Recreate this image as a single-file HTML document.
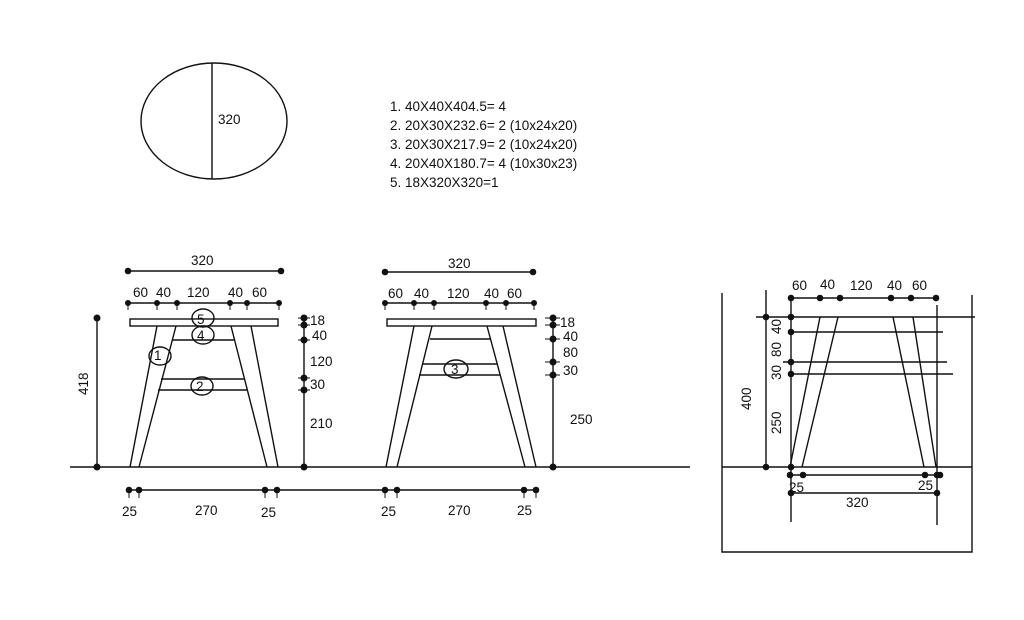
<!DOCTYPE html>
<html><head><meta charset="utf-8"><style>
html,body{margin:0;padding:0;background:#fff;width:1024px;height:620px;overflow:hidden}
text{font-family:"Liberation Sans",sans-serif;font-size:13.5px;fill:#111}
</style></head><body>
<svg width="1024" height="620" viewBox="0 0 1024 620" xmlns="http://www.w3.org/2000/svg">
<g stroke="#111" stroke-width="1.4" fill="none">
<ellipse cx="214" cy="121" rx="73" ry="58"/>
<line x1="212" y1="63" x2="212" y2="179"/>
<line x1="70" y1="467" x2="690" y2="467"/>
<line x1="128" y1="271" x2="281" y2="271"/>
<line x1="128" y1="303" x2="279" y2="303"/>
<rect x="130" y="319" width="148" height="7"/>
<line x1="157" y1="326" x2="130" y2="467"/><line x1="176" y1="326" x2="139" y2="467"/>
<line x1="231" y1="326" x2="267" y2="467"/><line x1="251" y1="326" x2="278" y2="467"/>
<line x1="172" y1="340" x2="234" y2="340"/>
<line x1="161" y1="379" x2="244" y2="379"/><line x1="158" y1="390" x2="247" y2="390"/>
<ellipse cx="203" cy="318" rx="11" ry="9"/>
<ellipse cx="203" cy="335" rx="11" ry="9"/>
<ellipse cx="160" cy="356" rx="11" ry="9"/>
<ellipse cx="202" cy="386" rx="11" ry="9"/>
<line x1="97" y1="318" x2="97" y2="467"/>
<line x1="304" y1="318" x2="304" y2="467"/>
<line x1="129" y1="490" x2="536" y2="490"/>
<line x1="385" y1="272" x2="533" y2="272"/>
<line x1="385" y1="303" x2="534" y2="303"/>
<rect x="387" y="319" width="149" height="7"/>
<line x1="414" y1="326" x2="386" y2="467"/><line x1="432" y1="326" x2="397" y2="467"/>
<line x1="487" y1="326" x2="525" y2="467"/><line x1="503" y1="326" x2="536" y2="467"/>
<line x1="430" y1="339" x2="490" y2="339"/>
<line x1="422" y1="364" x2="497" y2="364"/><line x1="419" y1="375" x2="500" y2="375"/>
<ellipse cx="456" cy="369" rx="12" ry="9"/>
<line x1="553" y1="318" x2="553" y2="467"/>
<polyline points="722,293 722,552 972,552 972,295"/>
<line x1="790" y1="298" x2="936" y2="298"/>
<line x1="756" y1="317" x2="975" y2="317"/>
<line x1="766" y1="290" x2="766" y2="467"/>
<line x1="791" y1="298" x2="791" y2="522"/>
<line x1="937" y1="305" x2="937" y2="525"/>
<line x1="790" y1="332" x2="943" y2="332"/>
<line x1="783" y1="362" x2="947" y2="362"/>
<line x1="790" y1="374" x2="953" y2="374"/>
<line x1="722" y1="467" x2="972" y2="467"/>
<line x1="820" y1="317" x2="790" y2="467"/><line x1="838" y1="317" x2="802" y2="467"/>
<line x1="893" y1="317" x2="924" y2="467"/><line x1="913" y1="317" x2="936" y2="467"/>
<line x1="790" y1="475" x2="940" y2="475"/>
<line x1="790" y1="493" x2="937" y2="493"/>
<g stroke-width="1">
<line x1="128" y1="303" x2="128" y2="310"/><line x1="157" y1="303" x2="157" y2="310"/><line x1="177" y1="303" x2="177" y2="310"/><line x1="230" y1="303" x2="230" y2="310"/><line x1="247" y1="303" x2="247" y2="310"/><line x1="279" y1="303" x2="279" y2="310"/>
<line x1="385" y1="303" x2="385" y2="310"/><line x1="414" y1="303" x2="414" y2="310"/><line x1="434" y1="303" x2="434" y2="310"/><line x1="486" y1="303" x2="486" y2="310"/><line x1="506" y1="303" x2="506" y2="310"/><line x1="534" y1="303" x2="534" y2="310"/>
<line x1="129" y1="490" x2="129" y2="498"/><line x1="139" y1="490" x2="139" y2="498"/><line x1="265" y1="490" x2="265" y2="498"/><line x1="277" y1="490" x2="277" y2="498"/>
<line x1="385" y1="490" x2="385" y2="498"/><line x1="397" y1="490" x2="397" y2="498"/><line x1="524" y1="490" x2="524" y2="498"/><line x1="536" y1="490" x2="536" y2="498"/>
<line x1="298" y1="318" x2="310" y2="318"/><line x1="298" y1="325" x2="310" y2="325"/><line x1="298" y1="340" x2="310" y2="340"/><line x1="298" y1="378" x2="310" y2="378"/><line x1="298" y1="390" x2="310" y2="390"/>
<line x1="545" y1="318" x2="560" y2="318"/><line x1="545" y1="325" x2="560" y2="325"/><line x1="545" y1="339" x2="560" y2="339"/><line x1="545" y1="362" x2="560" y2="362"/><line x1="545" y1="375" x2="560" y2="375"/>
</g>
</g>
<g fill="#111">
<circle cx="128" cy="271" r="3.3"/><circle cx="281" cy="271" r="3.3"/>
<circle cx="128" cy="303" r="3"/><circle cx="157" cy="303" r="3"/><circle cx="177" cy="303" r="3"/><circle cx="230" cy="303" r="3"/><circle cx="247" cy="303" r="3"/><circle cx="279" cy="303" r="3"/>
<circle cx="97" cy="318" r="3.5"/><circle cx="97" cy="467" r="3.5"/>
<circle cx="304" cy="318" r="3.5"/><circle cx="304" cy="325" r="3.5"/><circle cx="304" cy="340" r="3.5"/><circle cx="304" cy="378" r="3.5"/><circle cx="304" cy="390" r="3.5"/><circle cx="304" cy="467" r="3.5"/>
<circle cx="129" cy="490" r="3.3"/><circle cx="139" cy="490" r="3.3"/><circle cx="265" cy="490" r="3.3"/><circle cx="277" cy="490" r="3.3"/>
<circle cx="385" cy="490" r="3.3"/><circle cx="397" cy="490" r="3.3"/><circle cx="524" cy="490" r="3.3"/><circle cx="536" cy="490" r="3.3"/>
<circle cx="385" cy="272" r="3.3"/><circle cx="533" cy="272" r="3.3"/>
<circle cx="385" cy="303" r="3"/><circle cx="414" cy="303" r="3"/><circle cx="434" cy="303" r="3"/><circle cx="486" cy="303" r="3"/><circle cx="506" cy="303" r="3"/><circle cx="534" cy="303" r="3"/>
<circle cx="553" cy="318" r="3.5"/><circle cx="553" cy="325" r="3.5"/><circle cx="553" cy="339" r="3.5"/><circle cx="553" cy="362" r="3.5"/><circle cx="553" cy="375" r="3.5"/><circle cx="553" cy="467" r="3.5"/>
<circle cx="791" cy="298" r="3.3"/><circle cx="820" cy="298" r="3.3"/><circle cx="840" cy="298" r="3.3"/><circle cx="891" cy="298" r="3.3"/><circle cx="911" cy="298" r="3.3"/><circle cx="936" cy="298" r="3.3"/>
<circle cx="766" cy="317" r="3.3"/><circle cx="791" cy="317" r="3.3"/><circle cx="791" cy="332" r="3.3"/><circle cx="791" cy="362" r="3.3"/><circle cx="791" cy="374" r="3.3"/>
<circle cx="766" cy="467" r="3.3"/><circle cx="791" cy="467" r="3.3"/>
<circle cx="790" cy="475" r="3.3"/><circle cx="803" cy="475" r="3.3"/><circle cx="925" cy="475" r="3.3"/><circle cx="937" cy="475" r="3.3"/><circle cx="940" cy="475" r="3.3"/>
<circle cx="791" cy="493" r="3.3"/><circle cx="937" cy="493" r="3.3"/>
</g>
<text x="218" y="124">320</text>
<g>
<text x="390" y="111">1. 40X40X404.5= 4</text>
<text x="390" y="130">2. 20X30X232.6= 2 (10x24x20)</text>
<text x="390" y="149">3. 20X30X217.9=  2 (10x24x20)</text>
<text x="390" y="168">4. 20X40X180.7= 4 (10x30x23)</text>
<text x="390" y="187">5. 18X320X320=1</text>
</g>
<text x="191" y="265">320</text>
<text x="133" y="297">60</text><text x="156" y="297">40</text><text x="187" y="297">120</text><text x="228" y="297">40</text><text x="252" y="297">60</text>
<text x="197" y="324">5</text><text x="197" y="340">4</text><text x="154" y="360">1</text><text x="196" y="391">2</text>
<text x="310" y="325">18</text><text x="312" y="340">40</text><text x="310" y="366">120</text><text x="310" y="389">30</text><text x="310" y="428">210</text>
<text transform="translate(88,395) rotate(-90)">418</text>
<text x="122" y="516">25</text><text x="195" y="515">270</text><text x="261" y="517">25</text>
<text x="381" y="516">25</text><text x="448" y="515">270</text><text x="517" y="515">25</text>
<text x="448" y="268">320</text>
<text x="388" y="298">60</text><text x="414" y="298">40</text><text x="447" y="298">120</text><text x="484" y="298">40</text><text x="507" y="298">60</text>
<text x="451" y="374">3</text>
<text x="560" y="327">18</text><text x="563" y="341">40</text><text x="563" y="357">80</text><text x="563" y="375">30</text><text x="570" y="424">250</text>
<text x="792" y="290">60</text><text x="820" y="289">40</text><text x="850" y="290">120</text><text x="887" y="290">40</text><text x="912" y="290">60</text>
<text transform="translate(781,334) rotate(-90)">40</text>
<text transform="translate(781,357) rotate(-90)">80</text>
<text transform="translate(781,380) rotate(-90)">30</text>
<text transform="translate(781,434) rotate(-90)">250</text>
<text transform="translate(751,410) rotate(-90)">400</text>
<text x="789" y="492">25</text><text x="918" y="490">25</text>
<text x="846" y="507">320</text>
</svg>
</body></html>
